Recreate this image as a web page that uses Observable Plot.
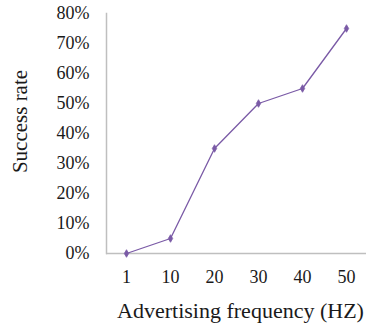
<!DOCTYPE html>
<html>
<head>
<meta charset="utf-8">
<script src="https://cdn.jsdelivr.net/npm/d3@7"></script>
<script src="https://cdn.jsdelivr.net/npm/@observablehq/plot@0.6"></script>
<style>
  html, body { margin: 0; padding: 0; background: #fff; }
  #chart svg { display: block; }
</style>
</head>
<body>
<div id="chart"></div>
<script>
const frequencies = ["1", "10", "20", "30", "40", "50"];
const successRates = [0, 0.05, 0.35, 0.50, 0.55, 0.75];
const yTicks = [0, 0.1, 0.2, 0.3, 0.4, 0.5, 0.6, 0.7, 0.8];
const xTitle = "Advertising frequency (HZ)";
const yTitle = "Success rate";

const data = frequencies.map((f, i) => ({ freq: f, rate: successRates[i] }));

const font = "'Liberation Serif', 'Times New Roman', serif";
const purple = "#7a5aa6";
const axisGray = "#bfbfbf";

const chart = Plot.plot({
  width: 366,
  height: 326,
  marginLeft: 106,
  marginRight: 0,
  marginTop: 13,
  marginBottom: 73,
  style: { fontFamily: font, fontSize: "18px", color: "#1a1a1a", background: "#fff" },
  x: { type: "point", domain: frequencies, padding: 0.43, label: null },
  y: { domain: [0, 0.8], label: null },
  marks: [
    Plot.frame({ anchor: "left", stroke: axisGray, strokeWidth: 1.5 }),
    Plot.ruleY([0], { stroke: axisGray, strokeWidth: 1.5 }),
    Plot.axisY({ ticks: yTicks, tickFormat: d3.format(".0%"), tickSize: 0, tickPadding: 17, label: null, fontSize: 18 }),
    Plot.axisX({ tickSize: 0, tickPadding: 17, label: null, fontSize: 18 }),
    Plot.line(data, { x: "freq", y: "rate", stroke: purple, strokeWidth: 1.3 }),
    Plot.dot(data, { x: "freq", y: "rate", symbol: "diamond", r: 2.3, fill: purple, stroke: purple, strokeWidth: 0.8 }),
    Plot.text([xTitle], { frameAnchor: "bottom", text: d => d, textAnchor: "middle", lineAnchor: "middle", dx: 4, dy: 57, fontSize: 22, fill: "#1a1a1a" }),
    Plot.text([yTitle], { frameAnchor: "left", text: d => d, textAnchor: "middle", lineAnchor: "middle", rotate: -90, dx: -86, dy: -12, fontSize: 21, fill: "#1a1a1a" })
  ]
});
document.getElementById("chart").appendChild(chart);
</script>
</body>
</html>
